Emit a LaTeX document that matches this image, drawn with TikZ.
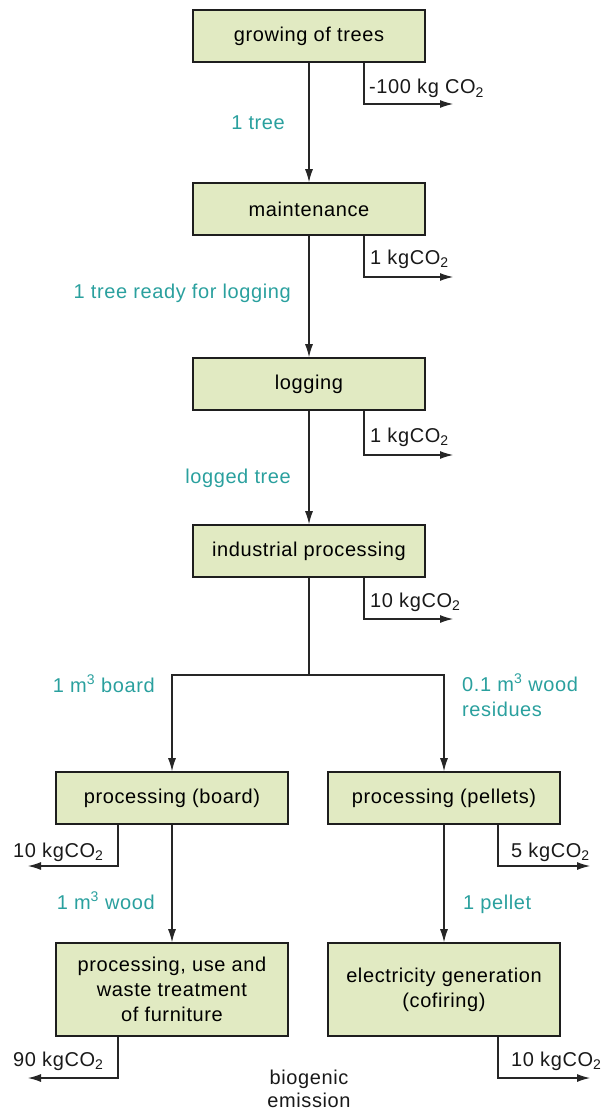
\documentclass[tikz,border=0pt]{standalone}
\usepackage{fontspec}
\setmainfont{Liberation Sans}[LetterSpace=3]
\usepackage{tikz}
\usetikzlibrary{arrows.meta, positioning}
\definecolor{boxfill}{RGB}{225, 234, 194}
\definecolor{boxline}{RGB}{30, 30, 30}
\definecolor{flowtext}{RGB}{42, 160, 158}

\begin{document}
\begin{tikzpicture}[
    x=1pt, y=-1pt,
    every node/.style={font=\fontsize{20}{25}\selectfont, inner sep=0pt},
    stage/.style={rectangle, draw=boxline, line width=1.6pt, fill=boxfill, minimum width=232pt, minimum height=#1, align=center},
    stage/.default=52pt,
    flow/.style={-{Latex[length=13pt,width=8pt]}, line width=1.1pt, draw=black!85},
    emit/.style={-{Latex[length=13pt,width=8pt]}, line width=1.1pt, draw=black!85},
    amount/.style={text=flowtext, align=left},
    co2/.style={text=black!90}
]
    \useasboundingbox (0,0) rectangle (603,1115);

    \node[stage] (grow) at (309,36) {growing of trees};
    \node[stage] (maint) at (309,209) {maintenance};
    \node[stage] (log) at (309,384) {logging};
    \node[stage] (ind) at (309,551) {industrial processing};
    \node[stage] (board) at (172,798) {processing (board)};
    \node[stage] (pellet) at (444,798) {processing (pellets)};
    \node[stage=93pt] (furn) at (172,989.5) {processing, use and\\waste treatment\\of furniture};
    \node[stage=93pt] (elec) at (444,989.5) {electricity generation\\(cofiring)};

    \coordinate (split) at (309,675);

    \draw[flow] (grow) -- (maint);
    \draw[flow] (maint) -- (log);
    \draw[flow] (log) -- (ind);
    \draw[flow] (ind) -- (split) -| (board);
    \draw[flow] (split) -| (pellet);
    \draw[flow] (board) -- (furn);
    \draw[flow] (pellet) -- (elec);

    \node[amount, anchor=base east] (a1) at (285,130) {1 tree};
    \node[amount, anchor=base east] (a2) at (291,298) {1 tree ready for logging};
    \node[amount, anchor=base east] (a3) at (291,483) {logged tree};
    \node[amount, anchor=base east] (a4) at (155,692) {1 m\textsuperscript{3} board};
    \node[amount, anchor=north west] (a5) at (462,674) {0.1 m\textsuperscript{3} wood\\residues};
    \node[amount, anchor=base east] (a6) at (155,909) {1 m\textsuperscript{3} wood};
    \node[amount, anchor=base west] (a7) at (463,909) {1 pellet};

    \coordinate (e1) at (453,104);
    \coordinate (e2) at (453,277);
    \coordinate (e3) at (453,455);
    \coordinate (e4) at (453,619);
    \coordinate (e5) at (28,866);
    \coordinate (e6) at (590,866);
    \coordinate (e7) at (28,1078);
    \coordinate (e8) at (590,1078);

    \draw[emit] ([xshift=55pt]grow.south) |- (e1);
    \draw[emit] ([xshift=55pt]maint.south) |- (e2);
    \draw[emit] ([xshift=55pt]log.south) |- (e3);
    \draw[emit] ([xshift=55pt]ind.south) |- (e4);
    \draw[emit] ([xshift=-54pt]board.south) |- (e5);
    \draw[emit] ([xshift=54pt]pellet.south) |- (e6);
    \draw[emit] ([xshift=-54pt]furn.south) |- (e7);
    \draw[emit] ([xshift=54pt]elec.south) |- (e8);

    \node[co2, anchor=base west] (c1) at (369,94) {-100 kg CO\textsubscript{2}};
    \node[co2, anchor=base west] (c2) at (370,264) {1 kgCO\textsubscript{2}};
    \node[co2, anchor=base west] (c3) at (370,442) {1 kgCO\textsubscript{2}};
    \node[co2, anchor=base west] (c4) at (370,607) {10 kgCO\textsubscript{2}};
    \node[co2, anchor=base west] (c5) at (13,857) {10 kgCO\textsubscript{2}};
    \node[co2, anchor=base west] (c6) at (511,857) {5 kgCO\textsubscript{2}};
    \node[co2, anchor=base west] (c7) at (13,1066) {90 kgCO\textsubscript{2}};
    \node[co2, anchor=base west] (c8) at (511,1066) {10 kgCO\textsubscript{2}};

    \node[co2, align=center, anchor=base] (bio) at (309,1107) {biogenic\\[-2pt]emission};
\end{tikzpicture}
\end{document}
